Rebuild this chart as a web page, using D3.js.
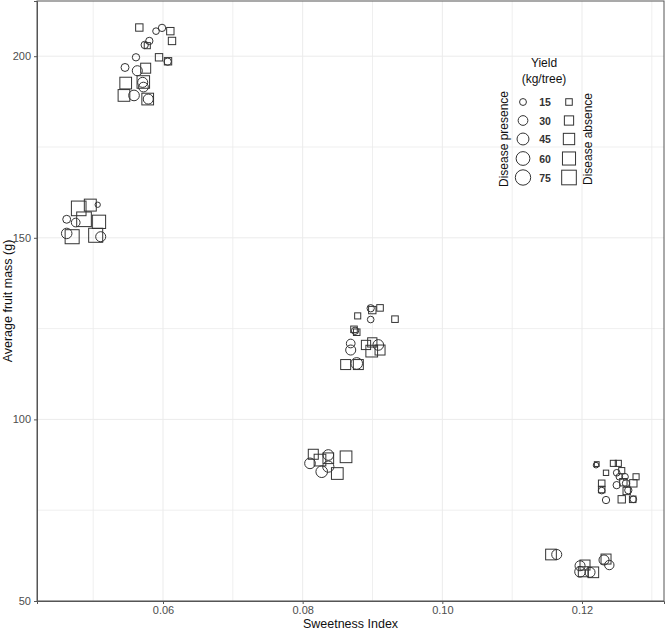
<!DOCTYPE html>
<html>
<head>
<meta charset="utf-8">
<script src="https://cdn.jsdelivr.net/npm/d3@7"></script>
<style>
  body { margin: 0; background: #fff; }
  svg { font-family: "Liberation Sans", Arial, sans-serif; }
</style>
</head>
<body>
<svg id="chart" width="666" height="629"></svg>
<script>
// ---- data ----
const sweetness = [
  // cluster A
  0.04793,0.04959,0.05065,0.04621,0.04750,0.04869,0.05083,0.04621,0.04699,0.05036,0.05108,
  // cluster B
  0.05661,0.05900,0.05986,0.06105,0.06129,0.05804,0.05738,0.05775,0.05613,0.05943,0.06072,0.06067,
  0.05456,0.05632,0.05752,0.05466,0.05718,0.05709,0.05441,0.05585,0.05781,0.05789,0.05720,
  // cluster C
  0.08974,0.08997,0.09108,0.08974,0.08788,0.09322,0.08735,0.08774,0.08750,0.08688,0.08907,
  0.08997,0.09083,0.08688,0.08989,0.09108,0.08616,0.08774,0.08797,
  // cluster D
  0.08152,0.08105,0.08248,0.08367,0.08367,0.08621,0.08273,0.08496,0.08367,
  // cluster E
  0.12201,0.12211,0.12344,0.12449,0.12520,0.12497,0.12569,0.12535,0.12616,0.12774,0.12282,
  0.12282,0.12282,0.12497,0.12592,0.12630,0.12735,0.12663,0.12640,0.12344,0.12569,0.12726,0.12735,
  // cluster F
  0.11556,0.11638,0.12043,0.11972,0.11972,0.12019,0.12115,0.12162,0.12344,0.12315,0.12391
];
const fruitMass = [
  158.1,159.0,159.1,155.1,154.2,155.1,154.4,151.2,150.3,150.7,150.3,
  207.9,206.9,207.8,206.9,204.2,204.2,203.1,202.9,199.7,199.7,198.6,198.5,
  196.9,196.0,196.7,192.6,192.9,192.8,189.2,189.2,188.2,188.2,191.5,
  130.6,130.1,130.7,127.5,128.5,127.6,124.8,124.0,124.4,120.9,120.5,
  121.2,120.5,119.1,118.8,119.1,115.1,115.4,115.1,
  90.4,87.9,88.8,90.2,89.3,89.7,85.6,85.1,87.0,
  87.4,87.7,85.3,87.9,87.9,85.3,85.9,84.2,84.2,84.2,82.4,
  80.7,80.4,81.9,82.7,82.4,82.4,80.5,80.3,77.8,78.0,78.0,78.0,
  62.8,62.8,59.9,59.7,58.05,58.05,57.9,57.9,61.55,61.3,59.9
];
const yieldKg = [
  75,50,9,20,24,75,62,35,69,69,32,
  19,14,17,19,19,17,17,13,17,19,19,17,
  20,32,35,48,55,32,48,36,48,32,30,
  17,19,15,14,13,15,15,15,17,24,30,
  30,36,32,48,35,35,43,35,
  35,36,48,36,40,48,43,48,40,
  10,8,10,13,13,14,13,14,14,13,15,
  15,14,17,19,17,19,17,19,17,19,15,14,
  40,32,35,32,36,35,32,40,35,32,28
];
const disease = [
  "a","a","p","p","p","a","a","p","a","a","p",
  "a","p","p","a","a","p","p","a","p","a","a","p",
  "p","p","a","a","a","p","a","p","a","p","p",
  "p","a","a","p","a","a","a","a","p","p","a",
  "a","p","p","a","a","a","p","a",
  "a","p","a","p","a","a","p","a","p",
  "p","a","a","a","a","p","a","p","p","a","a",
  "a","p","p","a","p","a","p","a","p","a","a","p",
  "a","p","a","p","p","a","p","a","a","p","p"
];
const xTicks = [0.06, 0.08, 0.10, 0.12];
const xMinor = [0.05, 0.07, 0.09, 0.11, 0.13];
const yTicks = [50, 100, 150, 200];
const yMinor = [75, 125, 175];
const legendYields = [15, 30, 45, 60, 75];
const diseaseLabels = {p: "Disease presence", a: "Disease absence"};

// ---- layout ----
const svg = d3.select("#chart");
const L = 37, R = 664, T = 1, B = 601;
const x = d3.scaleLinear().domain([0.041957, 0.131742]).range([L, R]);
const y = d3.scaleLinear().domain([50, 215.2]).range([B, T]);
const r = d3.scaleSqrt().domain([0, 75]).range([0, 7.7]);

// gridlines
const grid = svg.append("g");
grid.selectAll(".gx").data(xMinor.concat(xTicks)).enter().append("line")
  .attr("x1", d => x(d)).attr("x2", d => x(d)).attr("y1", T).attr("y2", B)
  .attr("stroke", "#ebebeb").attr("stroke-width", d => xTicks.includes(d) ? 1 : 0.8);
grid.selectAll(".gy").data(yMinor.concat(yTicks)).enter().append("line")
  .attr("y1", d => y(d)).attr("y2", d => y(d)).attr("x1", L).attr("x2", R)
  .attr("stroke", "#ebebeb").attr("stroke-width", d => yTicks.includes(d) ? 1 : 0.8);

// panel border
svg.append("rect").attr("x", L).attr("y", T).attr("width", R - L).attr("height", B - T)
  .attr("fill", "none").attr("stroke", "#555").attr("stroke-width", 1);

// points
const pts = sweetness.map((s, i) => ({s, m: fruitMass[i], yk: yieldKg[i], d: disease[i]}));
const g = svg.append("g");
pts.forEach(p => {
  const cx = x(p.s), cy = y(p.m), rr = r(p.yk);
  if (p.d === "p") {
    g.append("circle").attr("cx", cx).attr("cy", cy).attr("r", rr)
      .attr("fill", "none").attr("stroke", "#333").attr("stroke-width", 1);
  } else {
    const h = rr * 0.95;
    g.append("rect").attr("x", cx - h).attr("y", cy - h).attr("width", 2 * h).attr("height", 2 * h)
      .attr("fill", "none").attr("stroke", "#333").attr("stroke-width", 1);
  }
});

// axes
const xAxis = svg.append("g").attr("transform", `translate(0,${B})`)
  .call(d3.axisBottom(x).tickValues(xTicks).tickFormat(d3.format(".2f")).tickSize(3).tickPadding(2));
const yAxis = svg.append("g").attr("transform", `translate(${L},0)`)
  .call(d3.axisLeft(y).tickValues(yTicks).tickFormat(d3.format("d")).tickSize(3).tickPadding(3));
[xAxis, yAxis].forEach(a => {
  a.select(".domain").attr("stroke", "#555");
  a.selectAll(".tick line").attr("stroke", "#555");
  a.selectAll(".tick text").attr("fill", "#4d4d4d").style("font-size", "11px")
    .style("font-family", "Liberation Sans, Arial, sans-serif");
});

// axis titles
svg.append("text").attr("x", (L + R) / 2).attr("y", 627.5).attr("text-anchor", "middle")
  .style("font-size", "12.5px").attr("fill", "#111").text("Sweetness Index");
svg.append("text").attr("transform", `translate(12,${(T + B) / 2}) rotate(-90)`)
  .attr("text-anchor", "middle").style("font-size", "12.5px").attr("fill", "#111")
  .text("Average fruit mass (g)");

// legend
const lg = svg.append("g");
lg.append("text").attr("x", 544).attr("y", 67).attr("text-anchor", "middle")
  .style("font-size", "12px").attr("fill", "#111").text("Yield");
lg.append("text").attr("x", 544).attr("y", 83).attr("text-anchor", "middle")
  .style("font-size", "12px").attr("fill", "#111").text("(kg/tree)");
const rowY = [102, 120.5, 139, 158.5, 177.5];
legendYields.forEach((v, i) => {
  const rr = r(v);
  lg.append("circle").attr("cx", 523).attr("cy", rowY[i]).attr("r", rr)
    .attr("fill", "none").attr("stroke", "#333");
  lg.append("text").attr("x", 545).attr("y", rowY[i] + 4).attr("text-anchor", "middle")
    .style("font-size", "10.5px").style("font-weight", "bold").attr("fill", "#333").text(v);
  const h = rr * 0.95;
  lg.append("rect").attr("x", 569 - h).attr("y", rowY[i] - h).attr("width", 2 * h).attr("height", 2 * h)
    .attr("fill", "none").attr("stroke", "#333");
});
lg.append("text").attr("transform", "translate(508,139) rotate(-90)").attr("text-anchor", "middle")
  .style("font-size", "12px").attr("fill", "#111").text(diseaseLabels.p);
lg.append("text").attr("transform", "translate(592,139) rotate(-90)").attr("text-anchor", "middle")
  .style("font-size", "12px").attr("fill", "#111").text(diseaseLabels.a);
</script>
</body>
</html>
